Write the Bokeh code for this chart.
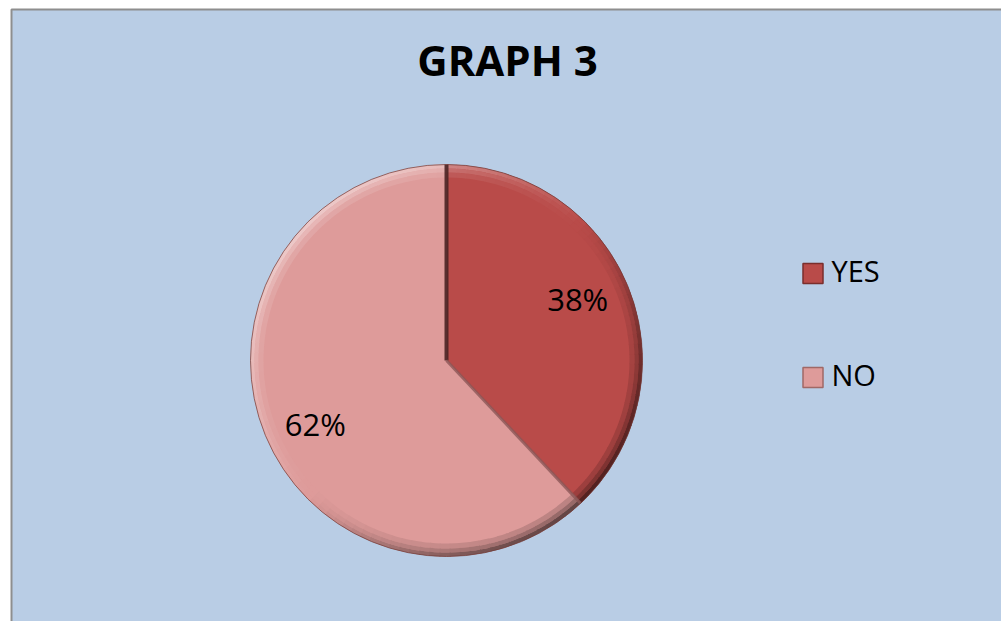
import numpy as np
from bokeh.plotting import figure
from bokeh.models import Range1d
from bokeh.core.properties import value
from bokeh.embed import file_html
from bokeh.resources import INLINE

# ---- data ----
title = "GRAPH 3"
categories = ["YES", "NO"]
shares = [38, 62]
colors = ["#B94B49", "#DE9B9A"]

W, H = 1001, 621
FONT = "Open Sans"

p = figure(width=W, height=H, x_range=Range1d(0, W), y_range=Range1d(0, H),
           output_backend="svg", toolbar_location=None, min_border=0)
p.axis.visible = False
p.grid.visible = False
p.outline_line_color = None
p.background_fill_color = "white"
p.border_fill_color = "white"

def py(y):
    # convert a top-down pixel position into the y data coordinate
    return H - y

def base(y, fs):
    # text baseline at pixel row y for a font of size fs
    return py(y) + 0.45 * fs

# chart area
p.quad(left=11, right=W + 5, bottom=-5, top=py(9),
       fill_color="#B9CDE5", line_color="#8E8E8E", line_width=2)

# title
p.text(x=[507], y=[base(78, 42)], text=[title], text_font=value(FONT),
       text_font_size="42px", text_font_style="bold", text_color="black",
       text_align="center", text_baseline="alphabetic")

# ---- pie ----
cx, cy, R = 446, py(360), 196
vals = np.array(shares, dtype=float)
frac = vals / vals.sum()
ends = np.cumsum(frac)
starts = ends - frac
# slices run clockwise from 12 o'clock
start_ang = np.pi / 2 - 2 * np.pi * ends
end_ang = np.pi / 2 - 2 * np.pi * starts

p.wedge(x=cx, y=cy, radius=R, start_angle=start_ang, end_angle=end_ang,
        fill_color=colors, line_color=None)

def blend(hexcol, k):
    c = np.array([int(hexcol[i:i + 2], 16) for i in (1, 3, 5)], dtype=float)
    if k >= 0:
        c = c + (255 - c) * k
    else:
        c = c * (1 + k)
    c = np.clip(c, 0, 255).astype(int)
    return "#%02x%02x%02x" % tuple(c)

# bevelled rim: light from the upper left, shade toward the lower right
light_dir = 3 * np.pi / 4
rings = [(R - 13, R - 8, 0.12, 0.15), (R - 8, R - 4, 0.28, 0.32), (R - 4, R, 0.45, 0.55)]
for a0, a1, col in zip(start_ang, end_ang, colors):
    n = max(int((a1 - a0) / (2 * np.pi) * 120), 4)
    edges = np.linspace(a0, a1, n + 1)
    mids = (edges[:-1] + edges[1:]) / 2
    k = np.cos(mids - light_dir)
    for r_in, r_out, up, down in rings:
        cols = [blend(col, up * v if v > 0 else down * v) for v in k]
        p.annular_wedge(x=cx, y=cy, inner_radius=r_in, outer_radius=r_out,
                        start_angle=edges[:-1], end_angle=edges[1:] + 0.004,
                        fill_color=cols, line_color=None)

# slice boundaries
bx = cx + R * np.cos(end_ang)
by = cy + R * np.sin(end_ang)
p.segment(x0=[cx], y0=[cy], x1=[bx[0]], y1=[by[0]],
          line_color="#4A2424", line_width=4, line_alpha=0.9)
p.segment(x0=[cx], y0=[cy], x1=[bx[1]], y1=[by[1]],
          line_color="#8C5656", line_width=3, line_alpha=0.8)
p.circle(x=[cx], y=[cy], radius=R, fill_color=None,
         line_color="#6E3A38", line_width=1, line_alpha=0.7)

# percentage labels placed along each slice's mid angle
mid = (start_ang + end_ang) / 2
label_r = np.array([0.72, 0.72]) * R
label_dy = np.array([-4, -26])
lx = cx + label_r * np.cos(mid)
ly = cy + label_r * np.sin(mid) + label_dy + 0.45 * 31
labels = ["%d%%" % v for v in shares]
p.text(x=lx, y=ly, text=labels, text_font=value(FONT), text_font_size="31px",
       text_color="black", text_align="center", text_baseline="alphabetic")

# ---- legend ----
leg_y = np.array([py(273), py(377)])
p.rect(x=[812.5] * 2, y=leg_y, width=20, height=20,
       fill_color=colors, line_color=["#7A2E2C", "#A06866"], line_width=1.5)
p.text(x=[831] * 2, y=leg_y - 10 + 0.45 * 29, text=categories, text_font=value(FONT),
       text_font_size="29px", text_color="black", text_align="left",
       text_baseline="alphabetic")

open("out.html", "w").write(file_html(p, INLINE))
